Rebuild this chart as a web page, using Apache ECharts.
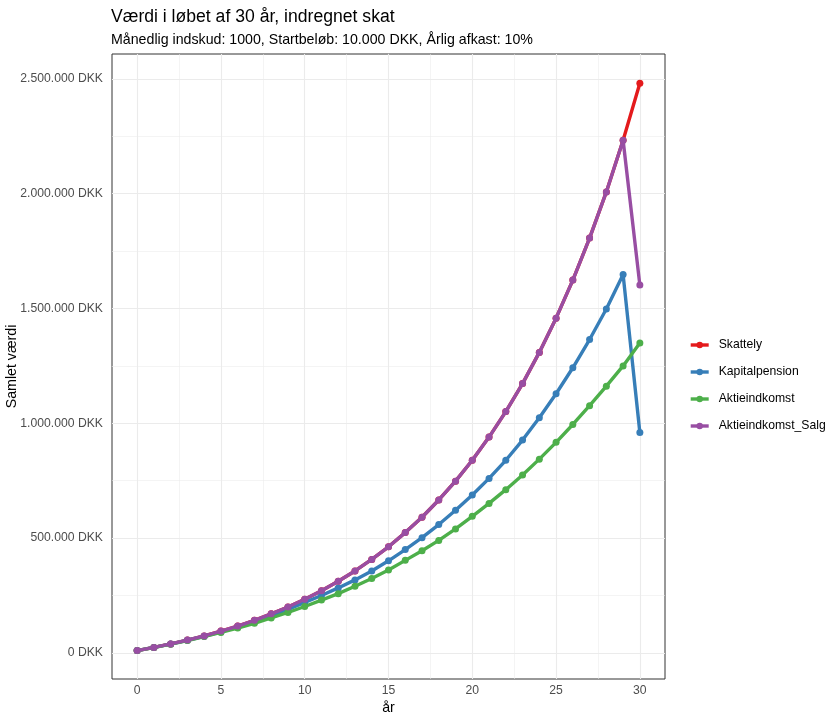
<!DOCTYPE html>
<html>
<head>
<meta charset="utf-8">
<title>Værdi i løbet af 30 år</title>
<script src="https://cdn.jsdelivr.net/npm/echarts@6/dist/echarts.min.js"></script>
<style>
	html, body { margin: 0; padding: 0; background: #ffffff; }
	#main { width: 831px; height: 718px; }
</style>
</head>
<body>
<div id="main"></div>
<script>

// data
var years = [0, 1, 2, 3, 4, 5, 6, 7, 8, 9, 10, 11, 12, 13, 14, 15, 16, 17, 18, 19, 20, 21, 22, 23, 24, 25, 26, 27, 28, 29, 30];

var skattely = [10000, 24000, 39000, 56000, 74000, 95000, 117000, 142000, 170000, 200000, 234000,
	271000, 312000, 357000, 407000, 462000, 524000, 591000, 666000, 748000, 839000,
	940000, 1051000, 1173000, 1309000, 1458000, 1624000, 1807000, 2008000, 2233000, 2481000];

var kapitalpension = [10000, 24000, 38500, 55000, 72500, 91500, 112000, 135000, 161000, 189000, 220000,
	250000, 283000, 318000, 357000, 401000, 450000, 502000, 559000, 621000, 688000,
	760000, 839000, 927000, 1024000, 1129000, 1242000, 1365000, 1498000, 1648000, 960000];

var aktieindkomst = [10000, 23500, 38000, 54000, 71000, 89000, 108000, 129000, 152000, 176000, 202000,
	230000, 258000, 290000, 324000, 361000, 403000, 445000, 490000, 540000, 595000,
	651000, 711000, 775000, 844000, 917000, 995000, 1077000, 1162000, 1250000, 1350000];

var aktieindkomstSalg = [10000, 24000, 39000, 56000, 74000, 95000, 117000, 142000, 170000, 200000, 234000,
	271000, 312000, 357000, 407000, 462000, 524000, 591000, 666000, 748000, 839000,
	940000, 1051000, 1173000, 1309000, 1458000, 1624000, 1807000, 2008000, 2233000, 1602000];

var seriesNames = ['Skattely', 'Kapitalpension', 'Aktieindkomst', 'Aktieindkomst_Salg'];
var seriesColors = ['#E41A1C', '#377EB8', '#4DAF4A', '#984EA3'];

var xTicks = [0, 5, 10, 15, 20, 25, 30];
var xMinor = [2.5, 7.5, 12.5, 17.5, 22.5, 27.5];
var yTicks = [0, 500000, 1000000, 1500000, 2000000, 2500000];
var yMinor = [250000, 750000, 1250000, 1750000, 2250000];


function fmtDKK(v) {
	var s = Math.round(v).toString();
	return s.replace(/\B(?=(\d{3})+(?!\d))/g, '.') + ' DKK';
}

function pairs(values) {
	var out = [];
	for (var i = 0; i < years.length; i++) {
		out.push([years[i], values[i]]);
	}
	return out;
}

window.onload = () => {

	var myChart = echarts.init(document.getElementById('main'));

	var font = 'Liberation Sans, Arial, sans-serif';

	// grid lines as mark lines, ggplot-like major / minor
	var gridLines = [];
	xTicks.forEach(function (v) { gridLines.push({ xAxis: v, lineStyle: { width: 1.1 } }); });
	xMinor.forEach(function (v) { gridLines.push({ xAxis: v, lineStyle: { width: 0.55 } }); });
	yTicks.forEach(function (v) { gridLines.push({ yAxis: v, lineStyle: { width: 1.1 } }); });
	yMinor.forEach(function (v) { gridLines.push({ yAxis: v, lineStyle: { width: 0.55 } }); });

	var allValues = [skattely, kapitalpension, aktieindkomst, aktieindkomstSalg];

	var series = [{
		name: 'grid',
		type: 'line',
		data: [],
		silent: true,
		markLine: {
			silent: true,
			symbol: ['none', 'none'],
			label: { show: false },
			emphasis: { disabled: true },
			animation: false,
			z: 1,
			lineStyle: { color: '#EBEBEB', type: 'solid' },
			data: gridLines
		}
	}];

	for (var i = 0; i < seriesNames.length; i++) {
		series.push({
			name: seriesNames[i],
			type: 'line',
			data: pairs(allValues[i]),
			z: 2 + i,
			symbol: 'circle',
			symbolSize: 7,
			showSymbol: true,
			color: seriesColors[i],
			lineStyle: { width: 3.4, color: seriesColors[i] },
			itemStyle: { color: seriesColors[i] },
			emphasis: { disabled: true },
			animation: false
		});
	}

	var option = {
		backgroundColor: '#ffffff',
		animation: false,
		textStyle: { fontFamily: font },
		title: [{
			text: 'Værdi i løbet af 30 år, indregnet skat',
			left: 111,
			top: 8,
			padding: 0,
			textStyle: { fontFamily: font, fontSize: 17.6, fontWeight: 'normal', color: '#000000' }
		}, {
			text: 'Månedlig indskud: 1000, Startbeløb: 10.000 DKK, Årlig afkast: 10%',
			left: 111,
			top: 33,
			padding: 0,
			textStyle: { fontFamily: font, fontSize: 14.2, fontWeight: 'normal', color: '#000000' }
		}],
		legend: {
			data: seriesNames,
			orient: 'vertical',
			left: 689,
			top: 339,
			padding: 0,
			itemWidth: 18,
			itemHeight: 8,
			itemGap: 15,
			lineStyle: { width: 3.4 },
			textStyle: { fontFamily: font, fontSize: 12.2, color: '#000000', padding: [0, 0, 0, 5] },
			selectedMode: false
		},
		grid: {
			left: 112,
			right: 166,
			top: 54,
			bottom: 39,
			outerBoundsMode: 'none',
			containLabel: false,
			show: true,
			backgroundColor: 'transparent',
			borderColor: '#333333',
			borderWidth: 1
		},
		xAxis: {
			type: 'value',
			min: -1.5,
			max: 31.5,
			name: 'år',
			nameLocation: 'middle',
			nameGap: 22,
			nameMoveOverlap: false,
			nameTextStyle: { fontFamily: font, fontSize: 14.2, color: '#000000' },
			axisLine: { show: false },
			splitLine: { show: false },
			axisTick: { show: true, length: 4, customValues: xTicks, lineStyle: { color: '#333333' } },
			axisLabel: { customValues: xTicks, margin: 6, fontSize: 12.2, color: '#4D4D4D', fontFamily: font }
		},
		yAxis: {
			type: 'value',
			min: -113750,
			max: 2608750,
			name: 'Samlet værdi',
			nameLocation: 'middle',
			nameGap: 93,
			nameMoveOverlap: false,
			nameTextStyle: { fontFamily: font, fontSize: 14.2, color: '#000000' },
			axisLine: { show: false },
			splitLine: { show: false },
			axisTick: { show: true, length: 4, customValues: yTicks, lineStyle: { color: '#333333' } },
			axisLabel: {
				customValues: yTicks,
				margin: 9,
				fontSize: 12.2,
				color: '#4D4D4D',
				fontFamily: font,
				formatter: function (v) { return fmtDKK(v); }
			}
		},
		series: series
	};

	myChart.setOption(option);
};
</script>
</body>
</html>
